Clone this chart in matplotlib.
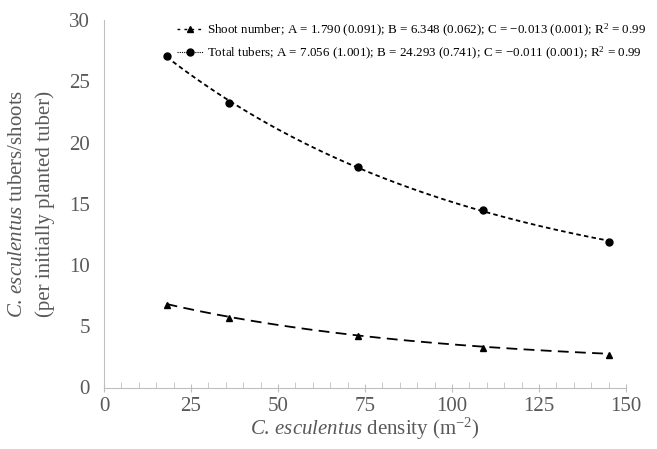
import numpy as np
import matplotlib
matplotlib.use("Agg")
from matplotlib import pyplot as plt
from matplotlib.lines import Line2D
from matplotlib.ticker import MultipleLocator

plt.rcParams['font.family'] = ['Liberation Serif', 'DejaVu Serif']
plt.rcParams['mathtext.fontset'] = 'custom'
plt.rcParams['mathtext.rm'] = 'Liberation Serif'
plt.rcParams['mathtext.it'] = 'Liberation Serif:italic'

density = [18, 36, 73, 109, 145]
shoots = [6.76, 5.67, 4.18, 3.23, 2.63]
tubers = [27.08, 23.2, 18.0, 14.45, 11.9]

# fitted y = A + B*exp(C*x), parameters from the legend
shoot_fit = (1.790, 6.348, -0.013)
tuber_fit = (7.056, 24.293, -0.011)

shoot_label = "Shoot number; A = 1.790 (0.091); B = 6.348 (0.062); C = \u22120.013 (0.001); R$^2$ = 0.99"
tuber_label = "Total tubers; A = 7.056 (1.001); B = 24.293 (0.741); C = \u22120.011 (0.001); R$^2$ = 0.99"

grey = '#595959'
axis_grey = '#bfbfbf'

fig = plt.figure(figsize=(6.57, 4.49), dpi=100)
ax = fig.add_axes([104 / 657, 1 - 387.5 / 449, 522 / 657, 367.5 / 449])

xs = np.linspace(min(density), max(density), 200)
a, b, c = shoot_fit
ax.plot(xs, a + b * np.exp(c * xs), color='black', lw=1.3, dashes=(6, 3.5))
a, b, c = tuber_fit
ax.plot(xs, a + b * np.exp(c * xs), color='black', lw=1.3, dashes=(2.5, 1.8))
ax.plot(density, shoots, ls='none', marker='^', ms=5, color='black')
ax.plot(density, tubers, ls='none', marker='o', ms=5, color='black')

ax.set_xlim(0, 150)
ax.set_ylim(0, 30)
ax.xaxis.set_major_locator(MultipleLocator(25))
ax.xaxis.set_minor_locator(MultipleLocator(5))
ax.yaxis.set_major_locator(MultipleLocator(5))
ax.tick_params(axis='x', which='major', direction='inout', length=6, color=axis_grey,
               labelsize=15, labelcolor=grey, pad=4)
ax.tick_params(axis='x', which='minor', direction='in', length=4, color=axis_grey)
ax.tick_params(axis='y', length=0, labelsize=15, labelcolor=grey, pad=10)
for side in ['top', 'right']:
    ax.spines[side].set_visible(False)
for side in ['left', 'bottom']:
    ax.spines[side].set_color(axis_grey)

ax.set_xlabel(r"$\mathit{C.\,esculentus}$ density (m$^{-2}$)",
              fontsize=15, color=grey, labelpad=0)
ax.set_ylabel("$\\mathit{C.\\,esculentus}$ tubers/shoots\n(per initially planted tuber)",
              fontsize=15, color=grey, labelpad=10, linespacing=1.6)

handles = [
    Line2D([], [], color='black', lw=1.0, dashes=(2, 3), marker='^', ms=5),
    Line2D([], [], color='black', lw=0.8, dashes=(1, 1), marker='o', ms=5),
]
fig.legend(handles, [shoot_label, tuber_label], loc='upper left',
           bbox_to_anchor=(170 / 657, 1 - 15 / 449), frameon=False, fontsize=9.4,
           handlelength=2.0, handletextpad=0.3, labelspacing=0.5, borderpad=0)

fig.savefig('out.png', dpi=100)
